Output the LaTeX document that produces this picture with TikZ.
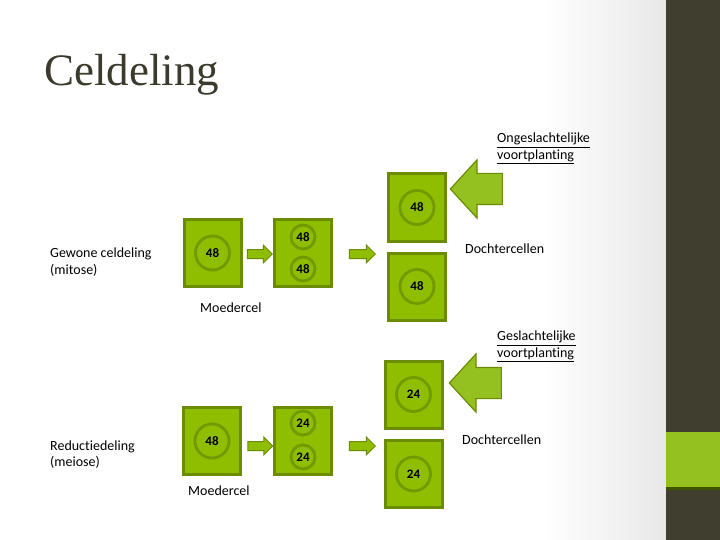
\documentclass[tikz,border=0pt]{standalone}
\usepackage{fontspec}
\setmainfont{Carlito}[Ligatures=NoCommon]
\newfontfamily\titelfont{Liberation Serif}
\usepackage{tikz}
\usetikzlibrary{shapes.arrows, positioning}
\definecolor{celgroen}{HTML}{8FBD00}
\definecolor{randgroen}{HTML}{6B8C00}
\definecolor{kerngroen}{HTML}{6F9A00}
\definecolor{balk}{HTML}{403F2F}
\definecolor{balkgroen}{HTML}{94C11F}
\definecolor{titel}{HTML}{3B3A2C}
\tikzset{
    cel/.style={rectangle, draw=randgroen, line width=3pt, fill=celgroen, minimum width=57pt, minimum height=67pt, inner sep=0pt},
    kern/.style={circle, draw=kerngroen, line width=2.8pt, fill=celgroen, minimum size=34pt, inner sep=0pt, font=\fontsize{13}{13}\selectfont\bfseries},
    kernklein/.style={kern, minimum size=24pt},
    pijl/.style={single arrow, draw=randgroen, line width=1pt, fill=celgroen, minimum height=25pt, minimum width=0pt, inner xsep=0pt, inner ysep=4pt, single arrow head extend=4.5pt},
    grotepijl/.style={single arrow, draw=randgroen, line width=1.2pt, fill=balkgroen, minimum height=52pt, minimum width=0pt, inner xsep=0pt, inner ysep=15pt, single arrow head extend=13.5pt, single arrow tip angle=95, shape border rotate=180},
    tekst/.style={anchor=west, inner sep=0pt, align=left, font=\fontsize{14}{16.5}\selectfont}
}
\begin{document}
\begin{tikzpicture}[x=1pt, y=-1pt]
  \useasboundingbox (0,0) rectangle (720,540);
  \fill[white] (0,0) rectangle (666,540);
  \shade[left color=white, right color=black!9] (540,0) rectangle (666,540);
  \fill[balk] (666,0) rectangle (720,540);
  \fill[balkgroen] (666,432) rectangle (720,487);
  \fill[randgroen!60!black] (666,487) rectangle (720,490);

  \node (titel) [anchor=base west, inner sep=0pt, text=titel, font=\titelfont\fontsize{45}{45}\selectfont] at (44,86) {Celdeling};

  % mitose
  \node (moeder) [cel] at (212.5,253) {};
  \node [kern] at (moeder) {48};
  \node (deling) [cel] at (303,253) {};
  \node [kernklein] at (303,237) {48};
  \node [kernklein] at (303,269) {48};
  \node (dochterboven) [cel] at (417,207.5) {};
  \node [kern] at (dochterboven) {48};
  \node (dochteronder) [cel] at (417,286.5) {};
  \node [kern] at (dochteronder) {48};
  \node (pijlA) [pijl] at (257.5,254) {};
  \node (pijlB) [pijl, minimum height=26pt] at (360,254) {};
  \node (ongeslachtelijk) [grotepijl] at (483.5,189) {};

  \node (mitose) [tekst] at (50,262) {Gewone celdeling\\(mitose)};
  \node (moederlabel) [tekst] at (200,308) {Moedercel};
  \node (dochterlabel) [tekst] at (465,249) {Dochtercellen};
  \node (ongeslachtlabel) [tekst] at (497,148.5) {\underline{Ongeslachtelijke}\\\underline{voortplanting}};

  % meiose
  \node (moeder2) [cel] at (212,441) {};
  \node [kern] at (moeder2) {48};
  \node (deling2) [cel] at (303,441) {};
  \node [kernklein] at (303,423) {24};
  \node [kernklein] at (303,457) {24};
  \node (dochterboven2) [cel] at (413.5,394.5) {};
  \node [kern] at (dochterboven2) {24};
  \node (dochteronder2) [cel] at (413.5,474) {};
  \node [kern] at (dochteronder2) {24};
  \node (pijlC) [pijl] at (258,446) {};
  \node (pijlD) [pijl, minimum height=26pt] at (360,446) {};
  \node (geslachtelijk) [grotepijl] at (482.5,383) {};

  \node (meiose) [tekst] at (50,454.5) {Reductiedeling\\(meiose)};
  \node (moederlabel2) [tekst] at (188,491) {Moedercel};
  \node (dochterlabel2) [tekst] at (462,440) {Dochtercellen};
  \node (geslachtlabel) [tekst] at (497,346.5) {\underline{Geslachtelijke}\\\underline{voortplanting}};
\end{tikzpicture}
\end{document}
